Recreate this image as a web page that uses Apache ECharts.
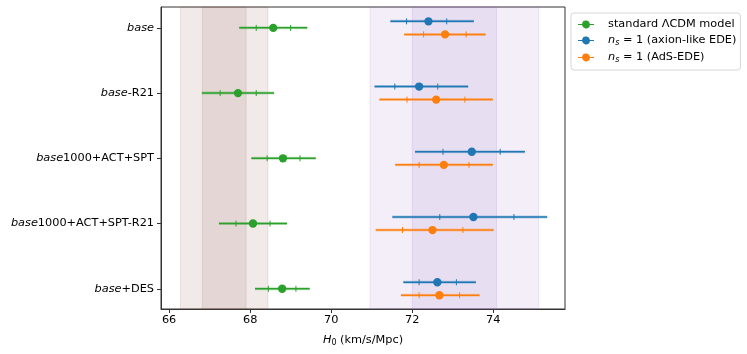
<!DOCTYPE html>
<html>
<head>
<meta charset="utf-8">
<script src="https://cdn.jsdelivr.net/npm/echarts@6/dist/echarts.min.js"></script>
<style>
  html, body { margin: 0; padding: 0; background: #fff; }
  #chart { width: 747px; height: 354px; }
</style>
</head>
<body>
<div id="chart"></div>
<script>
// dataset names on the y axis (top to bottom)
const categories = ['base', 'base-R21', 'base1000+ACT+SPT', 'base1000+ACT+SPT-R21', 'base+DES'];

// H0 per dataset: [lo95, lo68, mean, hi68, hi95]
const lcdm = [
  [67.73, 68.15, 68.57, 69.00, 69.41],
  [66.81, 67.26, 67.70, 68.15, 68.59],
  [68.03, 68.42, 68.81, 69.23, 69.62],
  [67.23, 67.65, 68.07, 68.49, 68.91],
  [68.12, 68.45, 68.79, 69.13, 69.47]
];
const axionEDE = [
  [71.46, 71.86, 72.40, 72.85, 73.52],
  [71.07, 71.57, 72.17, 72.63, 73.38],
  [72.07, 72.76, 73.47, 74.17, 74.78],
  [71.51, 72.68, 73.51, 74.51, 75.33],
  [71.78, 72.17, 72.62, 73.09, 73.57]
];
const adsEDE = [
  [71.80, 72.28, 72.81, 73.33, 73.81],
  [71.19, 71.87, 72.59, 73.30, 73.99],
  [71.58, 72.17, 72.78, 73.40, 73.99],
  [71.10, 71.76, 72.50, 73.25, 74.01],
  [71.72, 72.17, 72.67, 73.17, 73.66]
];

// shaded reference bands [from, to]
const planckBands = [[66.28, 68.44], [66.82, 67.90]];
const shoesBands = [[70.96, 75.12], [72.00, 74.08]];

const xTicks = [66, 68, 70, 72, 74];

const FONT = 'DejaVu Sans';
const FS = 11.3;

function toRows(arr) {
  return arr.map(function (r, i) { return [i].concat(r); });
}

function makeErrRender(color, offset) {
  return function (params, api) {
    const y = api.value(0) + offset;
    const p95a = api.coord([api.value(1), y]);
    const p68a = api.coord([api.value(2), y]);
    const pm = api.coord([api.value(3), y]);
    const p68b = api.coord([api.value(4), y]);
    const p95b = api.coord([api.value(5), y]);
    return {
      type: 'group',
      children: [
        { type: 'line', shape: { x1: p95a[0], y1: p95a[1], x2: p95b[0], y2: p95b[1] },
          style: { stroke: color, lineWidth: 3, opacity: 0.3 } },
        { type: 'line', shape: { x1: p95a[0], y1: p95a[1], x2: p95b[0], y2: p95b[1] },
          style: { stroke: color, lineWidth: 1.5 } },
        { type: 'line', shape: { x1: p68a[0], y1: p68a[1] - 3, x2: p68a[0], y2: p68a[1] + 3 },
          style: { stroke: color, lineWidth: 1 } },
        { type: 'line', shape: { x1: p68b[0], y1: p68b[1] - 3, x2: p68b[0], y2: p68b[1] + 3 },
          style: { stroke: color, lineWidth: 1 } },
        { type: 'circle', shape: { cx: pm[0], cy: pm[1], r: 4.2 },
          style: { fill: color } }
      ]
    };
  };
}

function bandArea(bands, color, innerColor, edge) {
  return {
    silent: true,
    data: [
      [{ xAxis: bands[0][0], itemStyle: { color: color, borderColor: edge, borderWidth: 1 } }, { xAxis: bands[0][1] }],
      [{ xAxis: bands[1][0], itemStyle: { color: innerColor, borderColor: edge, borderWidth: 1 } }, { xAxis: bands[1][1] }]
    ]
  };
}

const legendIcon = 'path://M0,3.4H4.05A4,4 0 0,1 11.95,3.4H16V4.6H11.95A4,4 0 0,1 4.05,4.6H0Z';

const myChart = echarts.init(document.getElementById('chart'), null, { renderer: 'canvas' });

const options = {
  animation: false,
  textStyle: { fontFamily: FONT },
  grid: { left: 161, right: 182, top: 7, bottom: 45, show: true, borderColor: '#333', borderWidth: 1, backgroundColor: 'transparent' },
  legend: {
    orient: 'vertical',
    left: 571,
    top: 13,
    padding: [6, 4, 6, 7],
    itemGap: 5,
    itemWidth: 16,
    itemHeight: 8,
    borderColor: '#d6d6d6',
    borderWidth: 1,
    borderRadius: 3,
    textStyle: {
      fontFamily: FONT, fontSize: FS, color: '#000', padding: [0, 0, 0, 9],
      rich: {
        it: { fontFamily: FONT, fontStyle: 'italic', fontSize: FS },
        sub: { fontFamily: FONT, fontStyle: 'italic', fontSize: 8, verticalAlign: 'bottom', padding: [5, 0, 0, 0] },
        n: { fontFamily: FONT, fontSize: FS }
      }
    },
    formatter: function (name) {
      if (name.indexOf('n_s') === 0) {
        return '{it|n}{sub|s}{n| = 1' + name.slice(3) + '}';
      }
      return name;
    },
    data: [
      { name: 'standard ΛCDM model', icon: legendIcon },
      { name: 'n_s (axion-like EDE)', icon: legendIcon },
      { name: 'n_s (AdS-EDE)', icon: legendIcon }
    ]
  },
  xAxis: {
    type: 'value',
    min: 65.8,
    max: 75.77,
    name: '{it|H}{sub|0}{n| (km/s/Mpc)}',
    nameLocation: 'middle',
    nameGap: 25,
    nameTextStyle: {
      rich: {
        it: { fontFamily: FONT, fontStyle: 'italic', fontSize: FS, color: '#000' },
        sub: { fontFamily: FONT, fontSize: 8, color: '#000', verticalAlign: 'bottom', padding: [5, 0, 0, 0] },
        n: { fontFamily: FONT, fontSize: FS, color: '#000' }
      }
    },
    axisLine: { onZero: false, lineStyle: { color: '#333', width: 1 } },
    axisTick: { show: true, length: 4, lineStyle: { color: '#333' }, customValues: xTicks },
    axisLabel: { fontFamily: FONT, fontSize: FS, color: '#000', margin: 6, customValues: xTicks },
    splitLine: { show: false }
  },
  yAxis: {
    type: 'value',
    min: -0.32,
    max: 4.31,
    inverse: true,
    axisLine: { onZero: false, lineStyle: { color: '#333', width: 1 } },
    axisTick: { show: true, length: 4, lineStyle: { color: '#333' }, customValues: [0, 1, 2, 3, 4] },
    axisLabel: {
      customValues: [0, 1, 2, 3, 4],
      margin: 7,
      fontSize: FS,
      color: '#000',
      formatter: function (v) {
        const name = categories[Math.round(v)];
        return '{it|base}{n|' + name.slice(4) + '}';
      },
      rich: {
        it: { fontFamily: FONT, fontStyle: 'italic', fontSize: FS, color: '#000' },
        n: { fontFamily: FONT, fontSize: FS, color: '#000' }
      }
    },
    splitLine: { show: false }
  },
  series: [
    {
      name: 'standard ΛCDM model',
      type: 'custom',
      itemStyle: { color: '#2ca02c' },
      renderItem: makeErrRender('#2ca02c', 0),
      encode: { x: [1, 2, 3, 4, 5], y: 0 },
      data: toRows(lcdm),
      markArea: bandArea(planckBands, 'rgba(140,86,75,0.12)', 'rgba(140,86,75,0.13)', 'rgba(140,86,75,0.15)'),
      z: 5
    },
    {
      name: 'n_s (axion-like EDE)',
      type: 'custom',
      itemStyle: { color: '#1f77b4' },
      renderItem: makeErrRender('#1f77b4', -0.1),
      encode: { x: [1, 2, 3, 4, 5], y: 0 },
      data: toRows(axionEDE),
      markArea: bandArea(shoesBands, 'rgba(148,103,189,0.11)', 'rgba(148,103,189,0.12)', 'rgba(148,103,189,0.15)'),
      z: 5
    },
    {
      name: 'n_s (AdS-EDE)',
      type: 'custom',
      itemStyle: { color: '#ff7f0e' },
      renderItem: makeErrRender('#ff7f0e', 0.1),
      encode: { x: [1, 2, 3, 4, 5], y: 0 },
      data: toRows(adsEDE),
      z: 5
    }
  ]
};

myChart.setOption(options);
</script>
</body>
</html>
